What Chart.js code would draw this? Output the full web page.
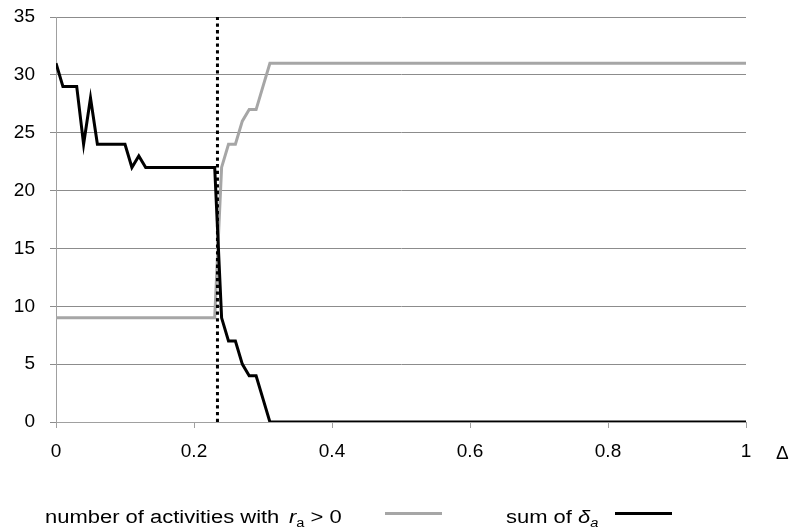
<!DOCTYPE html>
<html>
<head>
<meta charset="utf-8">
<script src="https://cdn.jsdelivr.net/npm/chart.js@4/dist/chart.umd.min.js"></script>
<style>
  body { margin: 0; background: #fff; }
  #wrap { position: relative; width: 789px; height: 531px; overflow: hidden; font-family: "Liberation Sans", Arial, sans-serif; color: #000; }
  #chart { position: absolute; left: 0; top: 0; }
  .lbl { position: absolute; font-size: 18px; line-height: 18px; white-space: nowrap; transform: scaleX(1.22); transform-origin: left center; }
  .lbl sub { font-size: 12px; vertical-align: -4px; line-height: 0; }
  .swatch { position: absolute; height: 3px; width: 57px; top: 512px; }
</style>
</head>
<body>
<div id="wrap">
  <canvas id="chart" width="789" height="531"></canvas>
  <span class="lbl" style="left:45px; top:508px;">number of activities with</span>
  <span class="lbl" style="left:289px; top:508px;"><i>r</i><sub>a</sub> &gt; 0</span>
  <div class="swatch" style="left:385px; background:#a6a6a6;"></div>
  <span class="lbl" style="left:506px; top:508px;">sum of <i>δ</i><sub><i>a</i></sub></span>
  <div class="swatch" style="left:615px; background:#000;"></div>
  <span class="lbl" style="left:776px; top:443px; transform:none; font-size:19px; line-height:19px;">Δ</span>
</div>
<script>
// valeurs
const deltaSum = [0, 0.01, 0.03, 0.04, 0.05, 0.06, 0.10, 0.11, 0.12, 0.13, 0.23, 0.24, 0.25, 0.26, 0.27, 0.28, 0.29, 0.30, 0.31, 1];
const sumDelta = [31, 29, 29, 24, 28, 24, 24, 22, 23, 22, 22, 9, 7, 7, 5, 4, 4, 2, 0, 0];

const deltaAct = [0, 0.23, 0.24, 0.25, 0.26, 0.27, 0.28, 0.29, 0.30, 0.31, 1];
const activities = [9, 9, 22, 24, 24, 26, 27, 27, 29, 31, 31];

// seuil (ligne pointillée)
const threshold = 0.234;

const xTicks = [0, 0.2, 0.4, 0.6, 0.8, 1];
const xTickLabels = ['0', '0.2', '0.4', '0.6', '0.8', '1'];
const yTicks = [0, 5, 10, 15, 20, 25, 30, 35];

function pts(xs, ys) {
    return xs.map((x, i) => ({ x: x, y: ys[i] }));
}

const tickFont = { family: '"Liberation Sans", Arial, sans-serif', size: 19 };

new Chart(document.getElementById('chart'), {
    type: 'line',
    data: {
        datasets: [
            {
                label: 'seuil',
                data: [{ x: threshold, y: 0 }, { x: threshold, y: 35 }],
                borderColor: '#000',
                borderWidth: 3,
                borderDash: [3.3, 3.4],
                pointRadius: 0,
                order: 0
            },
            {
                label: 'sum of δa',
                data: pts(deltaSum, sumDelta),
                borderColor: '#000',
                borderWidth: 3,
                pointRadius: 0,
                tension: 0,
                order: 1
            },
            {
                label: 'number of activities with ra > 0',
                data: pts(deltaAct, activities),
                borderColor: '#a6a6a6',
                borderWidth: 3,
                pointRadius: 0,
                tension: 0,
                order: 2
            }
        ]
    },
    options: {
        responsive: false,
        animation: false,
        devicePixelRatio: 1,
        layout: { padding: { left: 0, right: 43, top: 17, bottom: 0 } },
        plugins: {
            legend: { display: false },
            tooltip: { enabled: false }
        },
        scales: {
            x: {
                type: 'linear',
                min: 0,
                max: 1,
                afterFit: s => { s.height = 109; },
                afterBuildTicks: s => { s.ticks = xTicks.map(v => ({ value: v })); },
                grid: { drawOnChartArea: false, drawTicks: true, tickLength: 6, color: '#a0a0a0' },
                border: { display: true, color: '#a0a0a0', width: 1 },
                ticks: {
                    color: '#000',
                    font: tickFont,
                    padding: 12,
                    maxRotation: 0,
                    callback: (v, i) => xTickLabels[i]
                }
            },
            y: {
                min: 0,
                max: 35,
                // largeur fixe et pas de marge haute automatique
                afterFit: s => { s.width = 56; s.paddingTop = 0; s.paddingBottom = 0; },
                afterBuildTicks: s => { s.ticks = yTicks.map(v => ({ value: v })); },
                grid: { color: '#8c8c8c', lineWidth: 1, tickLength: 6 },
                border: { display: true, color: '#a0a0a0', width: 1 },
                ticks: {
                    color: '#000',
                    font: tickFont,
                    padding: 15
                }
            }
        }
    }
});
</script>
</body>
</html>
